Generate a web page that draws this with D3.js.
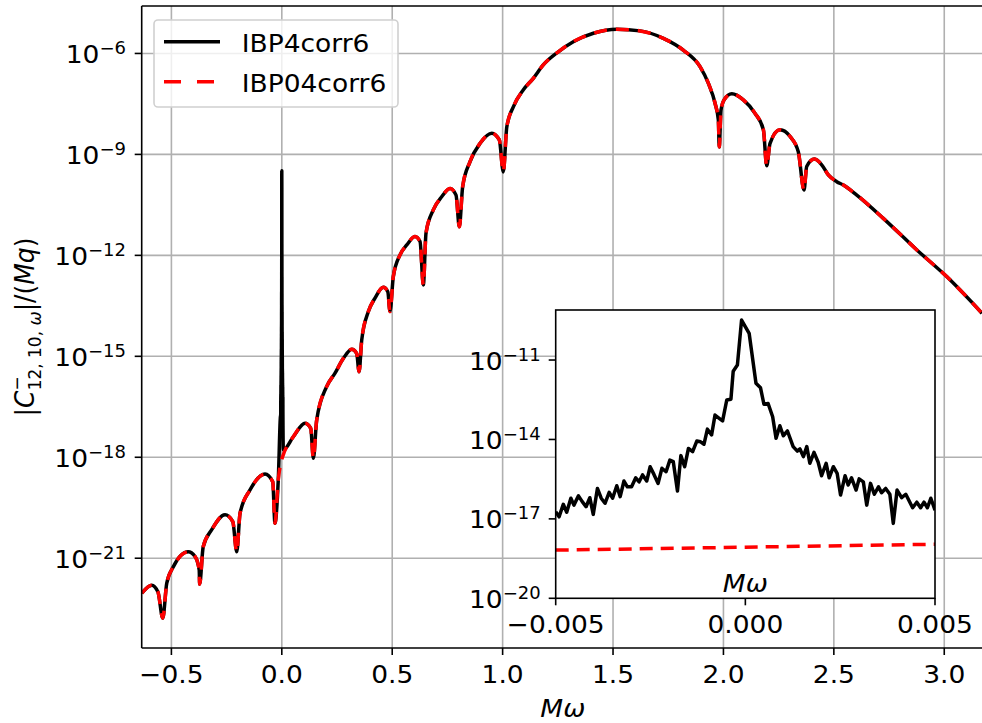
<!DOCTYPE html>
<html><head><meta charset="utf-8">
<script src="https://cdn.jsdelivr.net/npm/d3@7"></script>
<style>body{margin:0;background:#fff}svg{display:block;font-family:"DejaVu Sans",sans-serif}</style>
</head><body><svg id="chart" width="982" height="723"></svg>
<script>
// main curve (both series agree here)
const mw=[-0.634,-0.589,-0.561,-0.539,-0.521,-0.491,-0.424,-0.393,-0.374,-0.372,-0.356,-0.318,-0.257,-0.222,-0.204,-0.189,-0.144,-0.076,-0.041,-0.031,-0.016,-0.005,
  0.005,0.052,0.105,0.131,0.143,0.158,0.203,0.241,0.279,0.317,0.339,0.350,0.362,0.392,0.422,0.460,0.480,0.490,0.505,0.535,0.566,0.603,0.626,0.641,0.653,0.686,0.724,0.762,0.789,0.804,
  0.819,0.852,0.898,0.951,0.985,1.003,1.019,1.049,1.094,1.139,1.184,1.252,1.320,1.411,1.517,1.622,1.728,1.818,1.894,1.932,1.962,1.977,1.981,1.989,2.003,2.038,2.090,2.143,2.181,2.196,
  2.211,2.256,2.302,2.339,2.365,2.377,2.412,2.445,2.475,2.513,2.543,2.604,2.724,2.876,3.011,3.171];
const cMain=[9.12e-23,1.58e-22,1.0e-22,1.66e-23,1.82e-22,5.62e-22,1.55e-21,1.12e-21,4.47e-22,1.70e-22,2.19e-21,6.92e-21,1.95e-20,1.23e-20,1.55e-21,2.19e-20,1.07e-19,3.16e-19,1.86e-19,1.10e-20,2.14e-19,6.61e-19,
  1.10e-18,4.07e-18,1.02e-17,7.24e-18,9.33e-19,1.29e-17,1.26e-16,3.16e-16,8.71e-16,1.62e-15,1.23e-15,3.47e-16,3.09e-15,2.14e-14,5.37e-14,1.12e-13,8.32e-14,2.14e-14,2.34e-13,1.02e-12,2.04e-12,3.63e-12,2.57e-12,1.32e-13,4.57e-12,2.24e-11,5.50e-11,9.77e-11,6.17e-11,7.08e-12,
  1.10e-10,6.03e-10,2.14e-9,4.27e-9,2.69e-9,3.02e-10,6.61e-9,2.63e-8,8.32e-8,1.82e-7,4.57e-7,1.12e-6,2.24e-6,3.98e-6,5.25e-6,4.68e-6,2.82e-6,1.26e-6,4.07e-7,1.29e-7,3.31e-8,1.05e-8,1.66e-9,2.09e-8,4.17e-8,6.31e-8,4.17e-8,1.66e-8,5.37e-9,4.57e-10,
  2.14e-9,5.37e-9,3.39e-9,1.20e-9,8.71e-11,4.37e-10,7.24e-10,4.90e-10,2.45e-10,1.55e-10,1.23e-10,6.17e-11,1.26e-11,1.45e-12,2.34e-13,1.91e-14];
// IBP4corr6 close to M omega = 0 (inset)
const mwInset=[-0.005,-0.00491,-0.0048,-0.00471,-0.0046,-0.00452,-0.0044,-0.0043,-0.0042,-0.0041,-0.00401,-0.0039,-0.0038,-0.0037,-0.00359,-0.0035,-0.00339,-0.0033,-0.0032,-0.00311,-0.003,
  -0.00289,-0.0028,-0.00271,-0.0026,-0.00251,-0.00241,-0.0023,-0.0022,-0.00209,-0.00199,-0.0019,-0.00179,-0.0017,-0.0016,-0.0015,-0.00139,-0.00128,-0.00118,-0.00109,-0.001,
  -0.00089,-0.0008,-0.00069,-0.0006,-0.00049,-0.00038,-0.00032,-0.00021,-0.0001,0.0001,0.00028,0.0004,0.00049,0.0006,0.00072,0.00081,0.00091,0.001,0.00111,0.00126,0.00137,
  0.00144,0.00153,0.00162,0.0017,0.00181,0.00192,0.00201,0.00213,0.00221,0.00232,0.00242,0.00251,0.00263,0.00271,0.0028,0.00292,0.003,0.00311,0.0032,0.0033,0.0034,0.00351,
  0.00359,0.0037,0.00381,0.0039,0.004,0.00412,0.00423,0.00441,0.00452,0.00462,0.00471,0.0048,0.00489,0.005];
const cIBP4Inset=[1.86e-17,1.20e-17,3.55e-17,1.78e-17,6.03e-17,3.31e-17,7.41e-17,4.47e-17,2.88e-17,6.31e-17,1.48e-17,1.41e-16,6.03e-17,3.89e-17,1.00e-16,6.03e-17,1.78e-16,6.92e-17,2.69e-16,1.62e-16,1.62e-16,
  3.55e-16,2.51e-16,4.57e-16,2.69e-16,9.33e-16,4.79e-16,2.19e-16,8.13e-16,6.03e-16,1.66e-15,1.45e-15,1.12e-16,2.45e-15,9.33e-16,4.57e-15,3.47e-15,8.71e-15,8.13e-15,6.61e-15,2.45e-14,
  1.48e-14,8.32e-14,6.31e-14,5.01e-14,3.09e-13,3.31e-13,3.80e-12,6.46e-12,3.24e-10,1.02e-10,1.32e-12,8.91e-13,2.14e-13,2.29e-13,7.24e-14,1.10e-14,3.31e-14,1.38e-14,2.09e-14,5.37e-15,3.63e-15,
  4.37e-15,2.24e-15,5.37e-15,1.26e-15,3.24e-15,1.38e-15,4.27e-16,1.26e-15,3.55e-16,9.33e-16,5.25e-16,7.94e-17,4.27e-16,1.91e-16,3.55e-16,1.23e-16,3.24e-16,2.51e-16,3.31e-17,2.19e-16,8.51e-17,1.62e-16,
  9.77e-17,1.41e-16,8.51e-17,6.76e-18,1.23e-16,6.31e-17,8.51e-17,2.63e-17,4.27e-17,2.63e-17,4.27e-17,2.63e-17,6.03e-17,2.14e-17];
// where IBP4corr6 falls back onto the common curve just right of the inset window
const mwJoin=[0.0068];
const cJoin=[1.66e-18];
// IBP04corr6 close to 0 is smooth
const mwInsetRed=[-0.005,0.005];
const cIBP04Inset=[6.61e-19,1.10e-18];
const seriesNames=['IBP4corr6','IBP04corr6'];
const xTicks=[-0.5,0,0.5,1,1.5,2,2.5,3];
const yTicks=[1e-6,1e-9,1e-12,1e-15,1e-18,1e-21];
const insetXTicks=[-0.005,0,0.005];
const insetYTicks=[1e-11,1e-14,1e-17,1e-20];

const svg=d3.select('#chart');
const M={l:141.7,r:984,t:6,b:648};
const x=d3.scaleLinear().domain([-0.6345,3.18]).range([M.l,M.r]);
const y=d3.scaleLog().domain([2.15e-24,2.57e-5]).range([M.b,M.t]);
const expOf=v=>Math.round(Math.log10(v));
const GRID='#b0b0b0',FS=25,SUP=17,SX=1.06;

// text placed at (px,py), slightly widened like the picture's glyphs
function txt(g,px,py,s,anchor){
  return g.append('text').attr('transform',`translate(${px},${py}) scale(${SX},1)`)
    .attr('text-anchor',anchor||'start').attr('font-size',FS).text(s);
}
function powLabel(g,px,py,v){
  const t=txt(g,px,py,'10','end');
  t.append('tspan').attr('font-size',SUP).attr('dy',-9).text('\u2212'+Math.abs(expOf(v)));
}

const defs=svg.append('defs');
defs.append('clipPath').attr('id','clipMain').append('rect').attr('x',M.l).attr('y',M.t).attr('width',M.r-M.l).attr('height',M.b-M.t);

// grid
const grid=svg.append('g').attr('stroke',GRID).attr('stroke-width',1.6);
xTicks.forEach(t=>grid.append('line').attr('x1',x(t)).attr('x2',x(t)).attr('y1',M.t).attr('y2',M.b));
yTicks.forEach(t=>grid.append('line').attr('x1',M.l).attr('x2',M.r).attr('y1',y(t)).attr('y2',y(t)));

// curves
const main=mw.map((d,i)=>[d,cMain[i]]);
const near=mwInset.map((d,i)=>[d,cIBP4Inset[i]]);
const join=mwJoin.map((d,i)=>[d,cJoin[i]]);
const black=main.filter(p=>p[0]<-0.005).concat(near,join,main.filter(p=>p[0]>0.01));
const line=d3.line().x(d=>x(d[0])).y(d=>y(d[1])).curve(d3.curveMonotoneX);
const cg=svg.append('g').attr('clip-path','url(#clipMain)').attr('fill','none');
cg.append('path').datum(black).attr('d',line).attr('stroke','#000').attr('stroke-width',3.5).attr('stroke-linejoin','round');
cg.append('path').datum(main).attr('d',line).attr('stroke','red').attr('stroke-width',3.5).attr('stroke-dasharray','13,9');

// spines
const sp=svg.append('g').attr('stroke','#000').attr('stroke-width',1.6);
sp.append('line').attr('x1',M.l).attr('x2',M.r).attr('y1',M.t).attr('y2',M.t);
sp.append('line').attr('x1',M.l).attr('x2',M.r).attr('y1',M.b).attr('y2',M.b);
sp.append('line').attr('x1',M.l).attr('x2',M.l).attr('y1',M.t).attr('y2',M.b);
sp.append('line').attr('x1',M.r).attr('x2',M.r).attr('y1',M.t).attr('y2',M.b);

// ticks + labels
const tk=svg.append('g').attr('fill','#000');
xTicks.forEach(t=>{
  tk.append('line').attr('x1',x(t)).attr('x2',x(t)).attr('y1',M.b).attr('y2',M.b+7).attr('stroke','#000').attr('stroke-width',1.6);
  txt(tk,x(t),M.b+35,d3.format('.1f')(t).replace('-','\u2212'),'middle');
});
yTicks.forEach(t=>{
  tk.append('line').attr('x1',M.l-7).attr('x2',M.l).attr('y1',y(t)).attr('y2',y(t)).attr('stroke','#000').attr('stroke-width',1.6);
  powLabel(tk,126,y(t)+9.5,t);
});

// axis labels
txt(svg,(M.l+M.r)/2,717,'M\u03c9','middle').attr('font-style','italic');
const yl=svg.append('text').attr('transform',`translate(34,${(M.t+M.b)/2}) rotate(-90) scale(1,${SX})`).attr('text-anchor','middle').attr('font-size',FS);
yl.append('tspan').text('|');
yl.append('tspan').attr('font-style','italic').text('C');
yl.append('tspan').attr('font-size',SUP).attr('dy',-10).text('\u2212');
yl.append('tspan').attr('font-size',SUP).attr('dx',-14).attr('dy',17).text('12, 10, ');
yl.append('tspan').attr('font-size',SUP).attr('font-style','italic').text('\u03c9');
yl.append('tspan').attr('dy',-7).text('|/(');
yl.append('tspan').attr('font-style','italic').text('Mq');
yl.append('tspan').text(')');

// legend
const lg=svg.append('g');
lg.append('rect').attr('x',154).attr('y',20).attr('width',244).attr('height',87).attr('rx',4)
  .attr('fill','rgba(255,255,255,0.8)').attr('stroke','#d0d0d0').attr('stroke-width',1.6);
seriesNames.forEach((n,i)=>{
  const ly=41.7+i*40;
  lg.append('line').attr('x1',164).attr('x2',220).attr('y1',ly).attr('y2',ly)
    .attr('stroke',i?'red':'#000').attr('stroke-width',3.5).attr('stroke-dasharray',i?'17,16':null);
  txt(lg,241.7,ly+10,n);
});

// inset
const I={l:555.7,r:935,t:310,b:598.3};
const xi=d3.scaleLinear().domain([-0.005,0.005]).range([I.l,I.r]);
const yi=d3.scaleLog().domain([1e-20,7.76e-10]).range([I.b,I.t]);
defs.append('clipPath').attr('id','clipInset').append('rect').attr('x',I.l).attr('y',I.t).attr('width',I.r-I.l).attr('height',I.b-I.t);
const ig=svg.append('g');
ig.append('rect').attr('x',I.l).attr('y',I.t).attr('width',I.r-I.l).attr('height',I.b-I.t).attr('fill','#fff');
const iline=d3.line().x(d=>xi(d[0])).y(d=>yi(d[1]));
const icg=ig.append('g').attr('clip-path','url(#clipInset)').attr('fill','none');
icg.append('path').datum(near).attr('d',iline).attr('stroke','#000').attr('stroke-width',3.5).attr('stroke-linejoin','round');
icg.append('path').datum(mwInsetRed.map((d,i)=>[d,cIBP04Inset[i]])).attr('d',iline).attr('stroke','red').attr('stroke-width',3.5).attr('stroke-dasharray','13,8');
ig.append('rect').attr('x',I.l).attr('y',I.t).attr('width',I.r-I.l).attr('height',I.b-I.t).attr('fill','none').attr('stroke','#000').attr('stroke-width',1.6);
const itk=ig.append('g');
insetXTicks.forEach(t=>{
  itk.append('line').attr('x1',xi(t)).attr('x2',xi(t)).attr('y1',I.b).attr('y2',I.b+7).attr('stroke','#000').attr('stroke-width',1.6);
  txt(itk,xi(t),I.b+35,d3.format('.3f')(t).replace('-','\u2212'),'middle');
});
insetYTicks.forEach(t=>{
  itk.append('line').attr('x1',I.l-7).attr('x2',I.l).attr('y1',yi(t)).attr('y2',yi(t)).attr('stroke','#000').attr('stroke-width',1.6);
  powLabel(itk,I.l-15,yi(t)+9.5,t);
});
txt(ig,(I.l+I.r)/2,592,'M\u03c9','middle').attr('font-style','italic');
</script></body></html>
